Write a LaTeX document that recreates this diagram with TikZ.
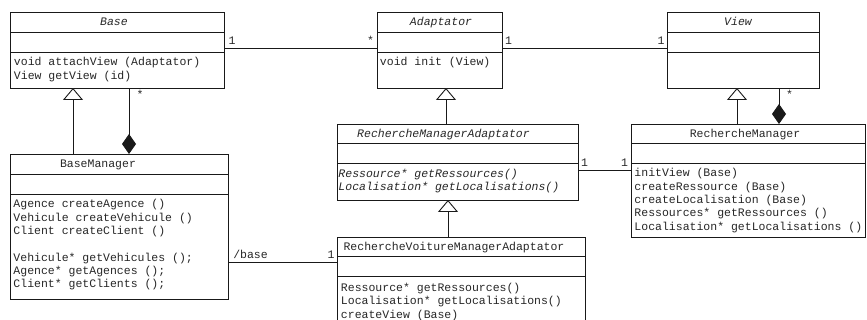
\documentclass[tikz,border=0pt]{standalone}
\usepackage{fontspec}
\setmonofont{Liberation Mono}
\usetikzlibrary{arrows.meta}
\newcommand{\umlfont}{\ttfamily\fontsize{11.5}{13.3}\selectfont}
\begin{document}
\begin{tikzpicture}[x=1pt,y=-1pt,line width=0.9pt,
  cls/.style={draw=black!90, anchor=north west, inner sep=0pt, outer sep=0pt},
  txt/.style={anchor=base west, inner sep=0pt, align=left, font=\umlfont, text=black!85},
  ttl/.style={anchor=base, inner sep=0pt, font=\umlfont, text=black!85},
  lbl/.style={anchor=base, inner sep=0pt, font=\umlfont, text=black!85},
  gen/.style={draw=black!90,-{Triangle[open,length=12pt,width=20pt,fill=white,line width=0.9pt]}},
  comp/.style={draw=black!90,{Diamond[length=20pt,width=14pt,line width=0.9pt]}-},
  assoc/.style={draw=black!90},
  divider/.style={draw=black!90}]
\useasboundingbox (0,0) rectangle (867,320);
\clip (0,0) rectangle (867,320);

% ---- class boxes ----
\node[cls, minimum width=214pt, minimum height=76pt] (base) at (10,12) {};
\node[cls, minimum width=125pt, minimum height=76pt] (adapt) at (377,12) {};
\node[cls, minimum width=152pt, minimum height=76pt] (view) at (667,12) {};
\node[cls, minimum width=218pt, minimum height=145pt] (bm) at (10,154) {};
\node[cls, minimum width=241pt, minimum height=76pt] (rma) at (337,124) {};
\node[cls, minimum width=234.5pt, minimum height=113pt] (rm) at (631,124) {};
\node[cls, minimum width=248pt, minimum height=100pt] (rvma) at (337,237) {};

% ---- compartments ----
\draw[divider] (base.north west) ++(0,20) -- ++(214,0) ++(-214,20) -- ++(214,0);
\draw[divider] (adapt.north west) ++(0,20) -- ++(125,0) ++(-125,20) -- ++(125,0);
\draw[divider] (view.north west) ++(0,20) -- ++(152,0) ++(-152,20) -- ++(152,0);
\draw[divider] (bm.north west) ++(0,20) -- ++(218,0) ++(-218,20) -- ++(218,0);
\draw[divider] (rma.north west) ++(0,19) -- ++(241,0) ++(-241,20) -- ++(241,0);
\draw[divider] (rm.north west) ++(0,19) -- ++(234.5,0) ++(-234.5,20) -- ++(234.5,0);
\draw[divider] (rvma.north west) ++(0,19) -- ++(248,0) ++(-248,20) -- ++(248,0);

% ---- titles ----
\node[ttl, font=\umlfont\itshape] (baset) at (114,26) {Base};
\node[ttl, font=\umlfont\itshape] (adaptt) at (441,26) {Adaptator};
\node[ttl, font=\umlfont\itshape] (viewt) at (738,26) {View};
\node[ttl] (bmt) at (98,168) {BaseManager};
\node[ttl, font=\umlfont\itshape] (rmat) at (443.5,138) {RechercheManagerAdaptator};
\node[ttl] (rmt) at (745,138) {RechercheManager};
\node[ttl] (rvmat) at (454,251) {RechercheVoitureManagerAdaptator};

% ---- operations (anchor = baseline of the last line) ----
\node[txt] (basem) at (13.5,79.3) {void attachView (Adaptator)\\View getView (id)};
\node[txt] (adaptm) at (379.5,66) {void init (View)};
\node[txt] (bmm) at (13,287.8) {Agence createAgence ()\\Vehicule createVehicule ()\\Client createClient ()\\[13.3pt]Vehicule* getVehicules ();\\Agence* getAgences ();\\Client* getClients ();};
\node[txt, font=\umlfont\itshape] (rmam) at (338,190.8) {Ressource* getRessources()\\Localisation* getLocalisations()};
\node[txt] (rmm) at (634,230.2) {initView (Base)\\createRessource (Base)\\createLocalisation (Base)\\Ressources* getRessources ()\\Localisation* getLocalisations ()};
\node[txt] (rvmam) at (340.5,318.1) {Ressource* getRessources()\\Localisation* getLocalisations()\\createView (Base)};

% ---- generalizations ----
\draw[gen] (bm.north -| 73,0) -- (base.south -| 73,0);
\draw[gen] (rma.north -| 446,0) -- (adapt.south -| 446,0);
\draw[gen] (rm.north -| 737,0) -- (view.south -| 737,0);
\draw[gen] (rvma.north -| 448,0) -- (rma.south -| 448,0);

% ---- compositions ----
\draw[comp] (bm.north -| 129,0) -- (base.south -| 129,0);
\draw[comp] (rm.north -| 779,0) -- (view.south -| 779,0);
\node[lbl] (m1) at (140,99) {*};
\node[lbl] (m2) at (789.5,99) {*};

% ---- associations ----
\draw[assoc] (base.east |- 0,48) -- (adapt.west |- 0,48);
\node[lbl] (m3) at (232,45) {1};
\node[lbl] (m4) at (370.5,45) {*};
\draw[assoc] (adapt.east |- 0,48) -- (view.west |- 0,48);
\node[lbl] (m5) at (508.5,45) {1};
\node[lbl] (m6) at (661,45) {1};
\draw[assoc] (rma.east |- 0,170) -- (rm.west |- 0,170);
\node[lbl] (m7) at (584.5,167) {1};
\node[lbl] (m8) at (624.5,167) {1};
\draw[assoc] (bm.east |- 0,262) -- (rvma.west |- 0,262);
\node[lbl] (m9) at (250.5,259) {/base};
\node[lbl] (m10) at (331,259) {1};
\end{tikzpicture}
\end{document}
